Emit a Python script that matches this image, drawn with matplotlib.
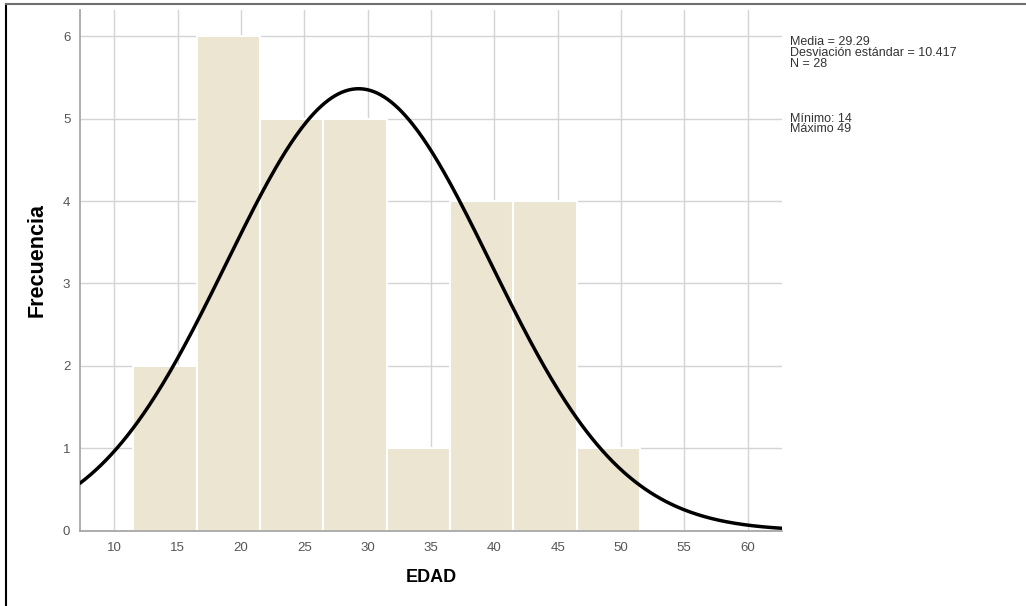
"""
Histograma de EDAD con curva normal (estilo SPSS).
"""

import matplotlib.pyplot as plt
from matplotlib.lines import Line2D
import numpy as np

plt.rcParams["font.family"] = ["Liberation Sans", "DejaVu Sans"]

# ---------------------------------------------------------------------
# Datos
# ---------------------------------------------------------------------

bin_edges = [11.5, 16.5, 21.5, 26.5, 31.5, 36.5, 41.5, 46.5, 51.5]
frecuencias = [2, 6, 5, 5, 1, 4, 4, 1]

media = 29.29
desv = 10.417
n_total = 28
minimo = 14
maximo = 49

x_ticks = [10, 15, 20, 25, 30, 35, 40, 45, 50, 55, 60]
y_ticks = [0, 1, 2, 3, 4, 5, 6]

# ---------------------------------------------------------------------
# Figura
# ---------------------------------------------------------------------

fig = plt.figure(figsize=(10.26, 6.06), dpi=100)
ax = fig.add_axes([0.078, 0.124, 0.684, 0.86])

bar_color = "#ebe5d1"
grid_color = "#d4d4d4"
tick_color = "#555555"

widths = np.diff(bin_edges)
ax.bar(bin_edges[:-1], frecuencias, width=widths, align="edge",
       color=bar_color, edgecolor="white", linewidth=1.5, zorder=2)

# curva normal escalada a frecuencias
bin_w = widths[0]
x_min, x_max = 7.3, 62.7
xs = np.linspace(x_min, x_max, 400)
ys = n_total * bin_w / (desv * np.sqrt(2 * np.pi)) * np.exp(-0.5 * ((xs - media) / desv) ** 2)
ax.plot(xs, ys, color="black", linewidth=2.5, zorder=3, solid_capstyle="round")

ax.set_xlim(x_min, x_max)
ax.set_ylim(0, 6.32)
ax.set_xticks(x_ticks)
ax.set_yticks(y_ticks)
ax.grid(True, color=grid_color, linewidth=1.0, zorder=0)
ax.set_axisbelow(True)

for side in ["top", "right"]:
    ax.spines[side].set_visible(False)
for side in ["left", "bottom"]:
    ax.spines[side].set_color("#a0a0a0")
    ax.spines[side].set_linewidth(1.2)

ax.tick_params(axis="both", length=0, labelsize=9.5, colors=tick_color)
ax.tick_params(axis="x", pad=8)
ax.tick_params(axis="y", pad=7)

ax.set_xlabel("EDAD", fontsize=13, fontweight="bold", labelpad=11)
ax.set_ylabel("Frecuencia", fontsize=15.5, fontweight="bold", labelpad=11, y=0.52)

# texto de estadísticos
stats_txt = (f"Media = {media:.2f}\n"
             f"Desviación estándar = {desv:.3f}\n"
             f"N = {n_total}")
fig.text(0.770, 0.940, stats_txt, fontsize=9, color="#333333",
         va="top", ha="left", linespacing=0.85)
fig.text(0.770, 0.814, f"Mínimo: {minimo}\nMáximo {maximo}", fontsize=9,
         color="#333333", va="top", ha="left", linespacing=0.85)

# marco de la imagen
fig.add_artist(Line2D([0.006, 0.006], [0, 0.993], color="black", linewidth=1.5,
                      transform=fig.transFigure))
fig.add_artist(Line2D([0.006, 1.0], [0.993, 0.993], color="#707070", linewidth=1.5,
                      transform=fig.transFigure))

fig.savefig("out.png", dpi=100)
plt.close(fig)
